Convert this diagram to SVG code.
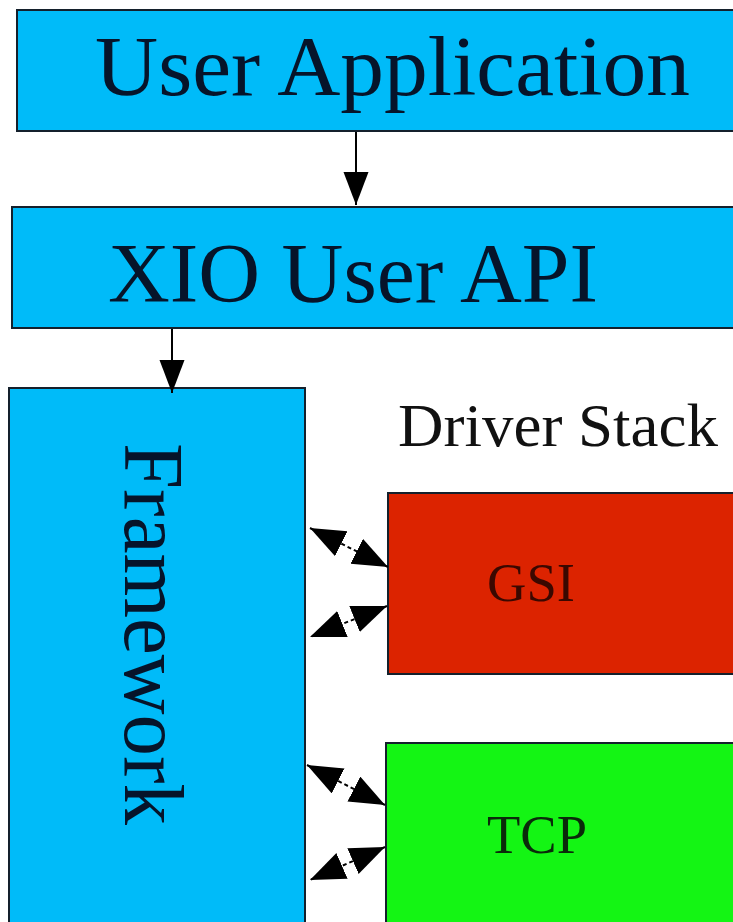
<svg xmlns="http://www.w3.org/2000/svg" width="733" height="922" viewBox="0 0 733 922">
<style>
.box{stroke:#14202c;stroke-width:2}
.blue{fill:#00bbf9}
.red{fill:#dc2300}
.green{fill:#14f514}
.big{font-family:"Liberation Serif",serif;font-size:85px;fill:#06142a}
.mid{font-family:"Liberation Serif",serif;font-size:62px;fill:#111}
.small{font-family:"Liberation Serif",serif;font-size:54px}
.solid{stroke:#000;stroke-width:2;fill:none}
.dash{stroke:#000;stroke-width:2;stroke-dasharray:4 3;fill:none}
</style>
<defs>
<marker id="hv" markerUnits="userSpaceOnUse" markerWidth="34" markerHeight="26" refX="33" refY="12.5" orient="auto">
<path d="M0,0 L33,12.5 L0,25 z" fill="#000"/>
</marker>
<marker id="hd" markerUnits="userSpaceOnUse" markerWidth="36" markerHeight="30" refX="35" refY="14" orient="auto-start-reverse">
<path d="M0,0 L35,14 L0,28 z" fill="#000"/>
</marker>
</defs>
<rect width="733" height="922" fill="#fff"/>
<g id="user-application">
<rect class="box blue" x="17" y="10" width="730" height="121"/>
<text class="big" x="95" y="95" textLength="595" lengthAdjust="spacingAndGlyphs">User Application</text>
</g>
<g id="xio-user-api">
<rect class="box blue" x="12" y="207" width="735" height="121"/>
<text class="big" x="108" y="302" textLength="490" lengthAdjust="spacingAndGlyphs">XIO User API</text>
</g>
<g id="framework">
<rect class="box blue" x="9" y="388" width="296" height="550"/>
<text class="big" transform="translate(125,443) rotate(90)" textLength="382" lengthAdjust="spacingAndGlyphs">Framework</text>
</g>
<g id="driver-stack-label">
<text class="mid" x="398" y="446" textLength="320" lengthAdjust="spacingAndGlyphs">Driver Stack</text>
</g>
<g id="gsi">
<rect class="box red" x="388" y="493" width="360" height="181"/>
<text class="small" x="487" y="601" fill="#3a0800" textLength="88" lengthAdjust="spacingAndGlyphs">GSI</text>
</g>
<g id="tcp">
<rect class="box green" x="386" y="743" width="360" height="190"/>
<text class="small" x="487" y="853" fill="#0a2a0a" textLength="100" lengthAdjust="spacingAndGlyphs">TCP</text>
</g>
<g id="connectors">
<line class="solid" x1="356" y1="132" x2="356" y2="205" marker-end="url(#hv)"/>
<line class="solid" x1="172" y1="329" x2="172" y2="393" marker-end="url(#hv)"/>
<line class="dash" x1="310" y1="528" x2="388" y2="567" marker-start="url(#hd)" marker-end="url(#hd)"/>
<line class="dash" x1="387" y1="606" x2="310" y2="637" marker-start="url(#hd)" marker-end="url(#hd)"/>
<line class="dash" x1="307" y1="765" x2="385" y2="805" marker-start="url(#hd)" marker-end="url(#hd)"/>
<line class="dash" x1="385" y1="847" x2="310" y2="880" marker-start="url(#hd)" marker-end="url(#hd)"/>
</g>
</svg>
